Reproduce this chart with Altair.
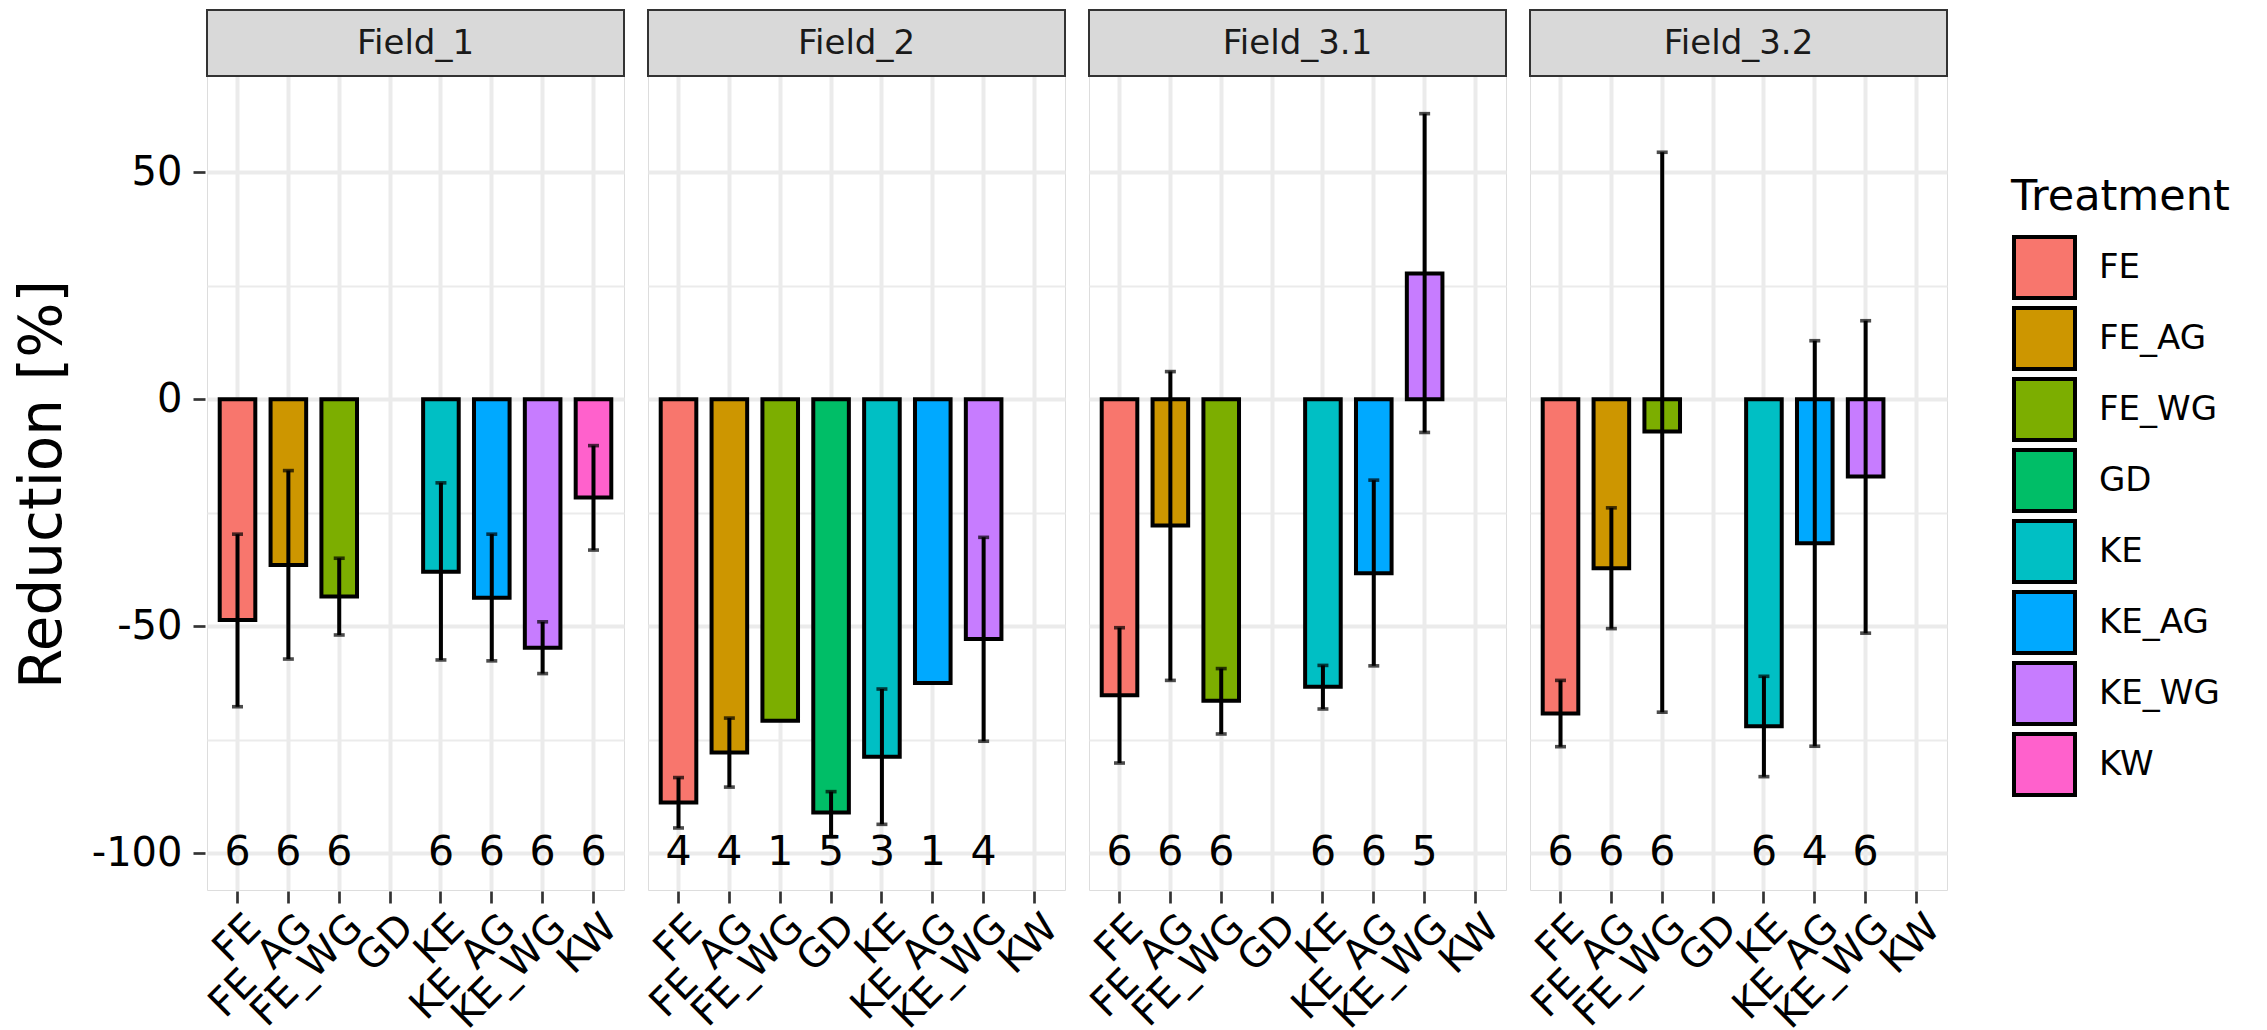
import altair as alt
import pandas as pd

fields = ["Field_1", "Field_2", "Field_3.1", "Field_3.2"]
treatments = ["FE", "FE_AG", "FE_WG", "GD", "KE", "KE_AG", "KE_WG", "KW"]
colors = ["#F8766D", "#CD9600", "#7CAE00", "#00BE67", "#00BFC4", "#00A9FF", "#C77CFF", "#FF61CC"]

# mean reduction per treatment (None = no data)
mean_f1 = [-48.6, -36.5, -43.4, None, -38.0, -43.7, -54.7, -21.6]
mean_f2 = [-88.8, -77.8, -70.8, -91.0, -78.7, -62.5, -52.8, None]
mean_f31 = [-65.2, -27.8, -66.4, None, -63.3, -38.3, 27.7, None]
mean_f32 = [-69.2, -37.2, -7.1, None, -72.0, -31.7, -17.0, None]

# error bar lower ends
lo_f1 = [-67.7, -57.2, -51.9, None, -57.4, -57.6, -60.4, -33.2]
lo_f2 = [-94.4, -85.4, None, -96.3, -93.6, None, -75.3, None]
lo_f31 = [-80.1, -61.9, -73.7, None, -68.2, -58.7, -7.3, None]
lo_f32 = [-76.5, -50.5, -68.9, None, -83.1, -76.4, -51.5, None]

# error bar upper ends
hi_f1 = [-29.7, -15.7, -35.0, None, -18.4, -29.7, -49.0, -10.2]
hi_f2 = [-83.3, -70.2, None, -86.4, -63.8, None, -30.4, None]
hi_f31 = [-50.3, 6.1, -59.3, None, -58.6, -17.8, 62.9, None]
hi_f32 = [-61.9, -23.9, 54.4, None, -61.0, 12.9, 17.3, None]

# sample sizes
n_f1 = [6, 6, 6, None, 6, 6, 6, 6]
n_f2 = [4, 4, 1, 5, 3, 1, 4, None]
n_f31 = [6, 6, 6, None, 6, 6, 5, None]
n_f32 = [6, 6, 6, None, 6, 4, 6, None]

COUNT_LABEL_Y = -100
y_ticks = [-100, -75, -50, -25, 0, 25, 50]

means = [mean_f1, mean_f2, mean_f31, mean_f32]
los = [lo_f1, lo_f2, lo_f31, lo_f32]
his = [hi_f1, hi_f2, hi_f31, hi_f32]
ns = [n_f1, n_f2, n_f31, n_f32]

rows = []
for fi, f in enumerate(fields):
    for ti, t in enumerate(treatments):
        m = means[fi][ti]
        if m is None:
            continue
        rows.append({
            "Field": f, "Treatment": t, "mean": m,
            "lo": los[fi][ti], "hi": his[fi][ti],
            "n": str(ns[fi][ti]), "label_y": COUNT_LABEL_Y,
        })
df = pd.DataFrame(rows)

W = 417
H = 880
STRIP_H = 66
FONT = "DejaVu Sans"

y_scale = alt.Scale(domain=[-108.06, 85.73], nice=False, zero=False)
x_enc = alt.X(
    "Treatment:N",
    sort=treatments,
    scale=alt.Scale(domain=treatments, paddingInner=0.3, paddingOuter=0.25),
    axis=alt.Axis(
        title=None, labelAngle=-45, labelAlign="right", labelBaseline="top",
        labelFontSize=40, labelColor="black", labelFont=FONT, labelOffset=3,
        labelPadding=4, tickSize=12, tickWidth=2.7, tickColor="#333333",
        domain=False, grid=True, gridColor="#EBEBEB", gridWidth=4,
    ),
)
y_axis = alt.Axis(
    title="Reduction [%]", values=y_ticks,
    labelExpr="datum.value % 50 === 0 ? toString(datum.value) : ''",
    labelFontSize=40, labelColor="black", labelFont=FONT, labelPadding=11,
    tickSize=12, tickWidth=2.7, tickColor="#333333",
    tickOpacity={"condition": {"test": "datum.value % 50 === 0", "value": 1}, "value": 0},
    gridColor="#EBEBEB",
    gridWidth={"condition": {"test": "datum.value % 50 === 0", "value": 4}, "value": 2},
    domain=False, titleFontSize=58, titleFontWeight="normal", titleColor="black",
    titleFont=FONT, titlePadding=19, titleY=474,
)

bars = alt.Chart().mark_bar(stroke="black", strokeWidth=4.0).encode(
    x=x_enc,
    y=alt.Y("mean:Q", scale=y_scale, axis=y_axis),
    y2=alt.datum(0),
    color=alt.Color(
        "Treatment:N",
        scale=alt.Scale(domain=treatments, range=colors),
        legend=alt.Legend(
            title="Treatment", orient="none", legendX=1804, legendY=166,
            symbolType="square", symbolSize=3721, symbolStrokeColor="black",
            symbolStrokeWidth=4, symbolOpacity=1, symbolOffset=1,
            labelFontSize=34, labelFont=FONT, labelColor="black", labelOffset=22,
            titleFontSize=43, titleFontWeight="normal", titleFont=FONT,
            titleColor="black", titlePadding=16, rowPadding=-14, titleLimit=600,
            labelLimit=400,
        ),
    ),
)

err_data = alt.Chart().transform_filter("isValid(datum.lo)")
rules = err_data.mark_rule(color="black", strokeWidth=4).encode(
    x=alt.X("Treatment:N", sort=treatments),
    y=alt.Y("lo:Q"),
    y2="hi:Q",
)
cap_lo = err_data.mark_tick(color="black", thickness=3.6, size=11).encode(
    x=alt.X("Treatment:N", sort=treatments), y="lo:Q"
)
cap_hi = err_data.mark_tick(color="black", thickness=3.6, size=11).encode(
    x=alt.X("Treatment:N", sort=treatments), y="hi:Q"
)
counts = alt.Chart().mark_text(fontSize=41, font=FONT, color="black", baseline="middle").encode(
    x=alt.X("Treatment:N", sort=treatments),
    y="label_y:Q",
    text="n:N",
)

strip_base = alt.Chart().transform_aggregate(cnt="count()", groupby=["Field"])
strip_rect = strip_base.mark_rect(fill="#D9D9D9", stroke="#333333", strokeWidth=2).encode(
    x=alt.value(0), x2=alt.value(W), y=alt.value(0), y2=alt.value(STRIP_H)
)
strip_text = strip_base.mark_text(fontSize=34, font=FONT, color="#1A1A1A", baseline="middle").encode(
    x=alt.value(W / 2), y=alt.value(STRIP_H / 2 + 1), text="Field:N"
)

layered = alt.layer(
    bars, rules, cap_lo, cap_hi, counts, strip_rect, strip_text, data=df
).properties(width=W, height=H)

chart = layered.facet(
    column=alt.Column("Field:N", sort=fields, title=None, header=alt.Header(labels=False)),
    spacing=20,
).configure_view(
    stroke="#333333", strokeWidth=2
).configure(
    font=FONT
).properties(
    padding={"left": 6, "top": 0, "right": 0, "bottom": 0}
)

chart.save("out.html", embed_options={"renderer": "svg", "actions": False})
